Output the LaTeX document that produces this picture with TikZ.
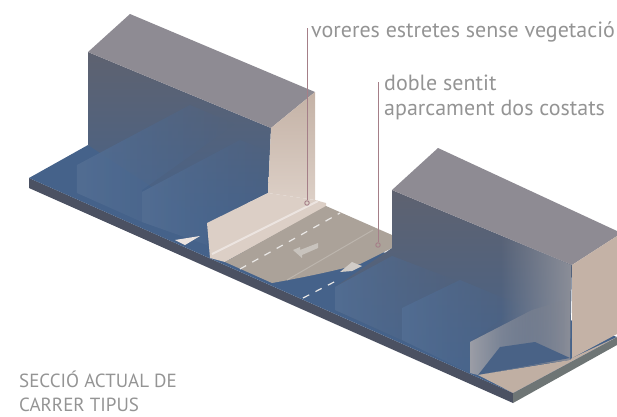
\documentclass[tikz,border=0pt]{standalone}
\usepackage{fontspec}
\setmainfont{PT Sans}
\usetikzlibrary{positioning,fadings}
\definecolor{roofgrey}{HTML}{8E8B93}
\definecolor{wallgrey}{HTML}{5E6270}
\definecolor{wallblue}{HTML}{45628A}
\definecolor{slab}{HTML}{4B5162}
\definecolor{slabside}{HTML}{6E7575}
\definecolor{warmwall}{HTML}{C4B2A6}
\definecolor{walkway}{HTML}{DCCFC6}
\definecolor{roadway}{HTML}{ABA299}
\definecolor{leader}{HTML}{A57F88}
\definecolor{labelgrey}{HTML}{949494}
\pgfdeclarehorizontalshading{wallface}{100bp}{
  color(0bp)=(wallgrey!75!white);
  color(14bp)=(wallblue!92!white);
  color(100bp)=(wallblue)}
\tikzset{%
  every label text/.style={
    anchor=base west,
    inner sep=0pt,
    text=labelgrey,
    font=\fontsize{22}{24}\selectfont
  },
  title text/.style={
    every label text,
    font=\fontsize{19}{24}\selectfont
  },
  leader line/.style={
    draw=leader,
    line width=0.9pt
  },
  road mark/.style={
    draw=white!75!roadway,
    line width=1.2pt,
    dash pattern=on 7pt off 7pt
  },
}

\begin{document}
\begin{tikzpicture}[x=1pt,y=-1pt]
      \useasboundingbox (0,0) rectangle (617,416);
      \tikzstyle{divider}=[shading=wallface,path fading=east]

      % base slab
      \fill[slab] (29,178) -- (513,393) -- (513,403) -- (29,188) -- cycle;
      \fill[slabside] (513,393) -- (617,337) -- (617,345) -- (513,403) -- cycle;
      \fill[wallblue] (29,178) -- (88,145) -- (617,337) -- (513,393) -- cycle;

      % left block
      \shade[shading angle=150,top color=wallgrey,bottom color=wallblue]
        (88,52) -- (271,128) -- (268,193) -- (207,223) -- (88,145) -- cycle;
      \shade[divider] (77,165) -- (190,105) -- (235,124) -- (142,190) -- (142,222) -- (77,193) -- cycle;
      \shade[divider] (142,192) -- (240,140) -- (270,152) -- (268,193) -- (207,223) -- (207,245) -- (142,222) -- cycle;
      \fill[roofgrey] (88,52) -- (130,14) -- (315,92) -- (271,128) -- cycle;
      \shade[top color=warmwall,bottom color=walkway]
        (271,128) -- (315,92) -- (315,200) -- (268,193) -- cycle;
      \fill[white!45!walkway] (175,240) -- (200,236) -- (185,245) -- cycle;

      % pavement and road
      \fill[walkway] (207,223) -- (268,193) -- (315,200) -- (326,203) -- (326,207) -- (225,262) -- (210,258) -- cycle;
      \draw[white!45!walkway,line width=2pt] (212,254) -- (318,201);
      \fill[roadway] (225,262) -- (326,206) -- (392,235) -- (392,248) -- (360,264)
        .. controls (330,272) and (300,278) .. (272,283) -- cycle;
      \draw[white!20!roadway,line width=1pt] (287,280) -- (373,230);
      \draw[road mark] (240,269) -- (340,213);
      \draw[road mark] (303,298) -- (336,281);
      \fill[white!35!roadway] (293,250) -- (300,247) -- (300,250) -- (318,243) -- (318,248) -- (302,255) -- (302,258) -- cycle;
      \fill[white!45!roadway] (340,272) -- (352,262) -- (362,266) -- (352,271) -- cycle;

      % right block
      \shade[shading angle=155,top color=wallgrey,bottom color=wallblue]
        (392,190) -- (572,265) -- (570,360) -- (478,375) -- (335,310) -- (335,287) -- (392,248) -- cycle;
      \shade[divider] (335,287) -- (392,256) -- (460,282) -- (402,308) -- (402,340) -- (335,310) -- cycle;
      \shade[divider] (402,308) -- (460,280) -- (520,305) -- (470,342) -- (470,373) -- (402,340) -- cycle;
      \fill[wallgrey!72!white,path fading=west]
        (500,234) -- (571,265) -- (570,360) -- (500,370) -- cycle;
      \shade[left color=wallgrey!62!white,right color=wallgrey!80!white,path fading=east]
        (470,342) -- (532,310) -- (565,300) -- (565,360) -- (478,375) -- (470,373) -- cycle;
      \fill[wallblue!85!wallgrey] (478,375) -- (570,358) -- (535,342) -- (500,347) -- cycle;
      \fill[warmwall!95!slabside] (478,375) -- (570,360) -- (572,358) -- (617,337) -- (513,393) -- cycle;
      \fill[roofgrey] (392,190) -- (438,148) -- (617,231) -- (617,236) -- (572,265) -- cycle;
      \fill[warmwall] (572,265) -- (617,236) -- (617,334) -- (572,358) -- cycle;

      % labels
      \node[every label text] (narrow) at (311,37) {voreres estretes sense vegetació};
      \node[every label text] (twoway) at (384,90) {doble sentit};
      \node[every label text] (parking) at (384,115) {aparcament dos costats};
      \node[title text] (title) at (19,387) {SECCIÓ ACTUAL DE};
      \node[title text] (subtitle) at (19,411) {CARRER TIPUS};

      \coordinate (narrowtop) at (307,28);
      \coordinate (twowaytop) at (378,82);
      \node[circle,leader line,inner sep=0pt,minimum size=4.5pt] (narrowend) at (307,203) {};
      \node[circle,leader line,inner sep=0pt,minimum size=4.5pt] (twowayend) at (378,245) {};
      \draw[leader line] (narrowtop) -- (narrowend);
      \draw[leader line] (twowaytop) -- (twowayend);
  \end{tikzpicture}
\end{document}
